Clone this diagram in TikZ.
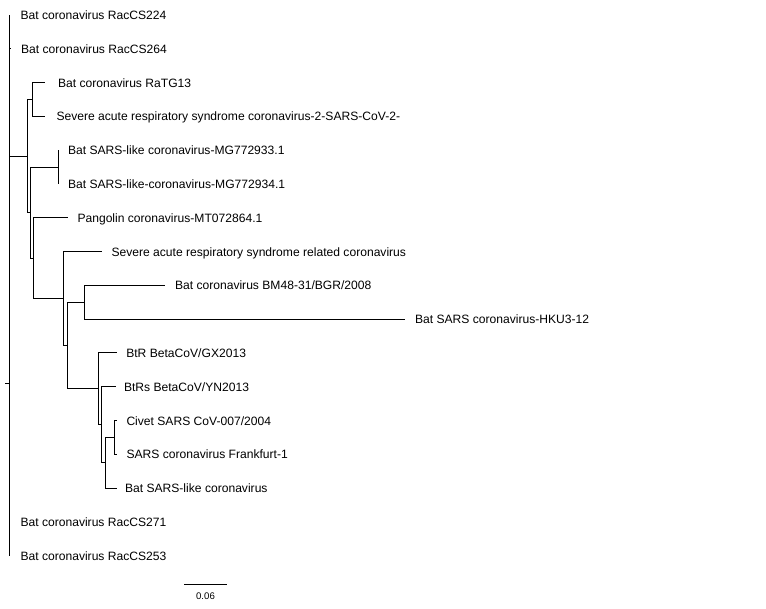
\documentclass[tikz,border=0pt]{standalone}
\usepackage{fontspec}
\setmainfont{Liberation Sans}
\begin{document}
\begin{tikzpicture}[x=1pt,y=-1pt,line width=1pt,
  lab/.style={anchor=base west,inner sep=0pt,font=\fontsize{12.1}{14}\selectfont},
  sclab/.style={anchor=base,inner sep=0pt,font=\fontsize{9.6}{11}\selectfont},
  br/.style={draw=black}]
\useasboundingbox (0,0) rectangle (766,609);
% root and internal nodes
\coordinate (R) at (9,384);
\coordinate (Rs) at (5,384);
\coordinate (C1) at (27.3,156.1);
\coordinate (A) at (32.3,99.5);
\coordinate (C2) at (30,212.65);
\coordinate (B) at (58,167.1);
\coordinate (C3) at (33.3,258.2);
\coordinate (C4) at (63.3,298.6);
\coordinate (C5) at (67.3,345.6);
\coordinate (D) at (84.7,302.3);
\coordinate (E) at (98.3,388.9);
\coordinate (F) at (101,424.8);
\coordinate (G) at (105,462.85);
\coordinate (H) at (114.3,437.5);
% tips
\coordinate (t224) at (9,15);
\coordinate (t264) at (11,48.8);
\coordinate (tRaTG) at (45,82.6);
\coordinate (tCoV2) at (45,116.4);
\coordinate (tMG3) at (58,150.2);
\coordinate (tMG4) at (58,184);
\coordinate (tPang) at (67.5,217.8);
\coordinate (tSrel) at (101.7,251.6);
\coordinate (tBM) at (165,285.4);
\coordinate (tHKU) at (405,319.2);
\coordinate (tGX) at (116.7,353);
\coordinate (tYN) at (116,386.8);
\coordinate (tCiv) at (116.7,420.6);
\coordinate (tFra) at (116.7,454.4);
\coordinate (tBSL) at (116.7,488.2);
\coordinate (t271) at (9,522);
\coordinate (t253) at (9,555.8);
% branches
\draw[br] (R) -- (Rs);
\draw[br] (R) |- (t224);
\draw[br] (R) |- (t264);
\draw[br] (R) |- (C1);
\draw[br] (R) |- (t271);
\draw[br] (R) |- (t253);
\draw[br] (C1) |- (A);
\draw[br] (C1) |- (C2);
\draw[br] (A) |- (tRaTG);
\draw[br] (A) |- (tCoV2);
\draw[br] (C2) |- (B);
\draw[br] (C2) |- (C3);
\draw[br] (B) |- (tMG3);
\draw[br] (B) |- (tMG4);
\draw[br] (C3) |- (tPang);
\draw[br] (C3) |- (C4);
\draw[br] (C4) |- (tSrel);
\draw[br] (C4) |- (C5);
\draw[br] (C5) |- (D);
\draw[br] (C5) |- (E);
\draw[br] (D) |- (tBM);
\draw[br] (D) |- (tHKU);
\draw[br] (E) |- (tGX);
\draw[br] (E) |- (F);
\draw[br] (F) |- (tYN);
\draw[br] (F) |- (G);
\draw[br] (G) |- (H);
\draw[br] (G) |- (tBSL);
\draw[br] (H) |- (tCiv);
\draw[br] (H) |- (tFra);
% labels
\node[lab] (l224) at (20,19.5) {Bat coronavirus RacCS224};
\node[lab] (l264) at (20.5,53.3) {Bat coronavirus RacCS264};
\node[lab] (lRaTG) at (57.5,87.1) {Bat coronavirus RaTG13};
\node[lab] (lCoV2) at (56,120.9) {Severe acute respiratory syndrome coronavirus-2-SARS-CoV-2-};
\node[lab] (lMG3) at (67.5,154.7) {Bat SARS-like coronavirus-MG772933.1};
\node[lab] (lMG4) at (67.5,188.5) {Bat SARS-like-coronavirus-MG772934.1};
\node[lab] (lPang) at (77,222.3) {Pangolin coronavirus-MT072864.1};
\node[lab] (lSrel) at (111,256.1) {Severe acute respiratory syndrome related coronavirus};
\node[lab] (lBM) at (174.5,289.9) {Bat coronavirus BM48-31/BGR/2008};
\node[lab] (lHKU) at (414.5,323.7) {Bat SARS coronavirus-HKU3-12};
\node[lab] (lGX) at (125.8,357.5) {BtR BetaCoV/GX2013};
\node[lab] (lYN) at (123.5,391.3) {BtRs BetaCoV/YN2013};
\node[lab] (lCiv) at (126,425.1) {Civet SARS CoV-007/2004};
\node[lab] (lFra) at (126,458.9) {SARS coronavirus Frankfurt-1};
\node[lab] (lBSL) at (124.5,492.7) {Bat SARS-like coronavirus};
\node[lab] (l271) at (20,526.5) {Bat coronavirus RacCS271};
\node[lab] (l253) at (20,560.3) {Bat coronavirus RacCS253};
% scale bar
\coordinate (sb1) at (184,584);
\coordinate (sb2) at (227,584);
\draw[br] (sb1) -- (sb2);
\node[sclab] (sbl) at (205.5,599.3) {0.06};
\end{tikzpicture}
\end{document}
